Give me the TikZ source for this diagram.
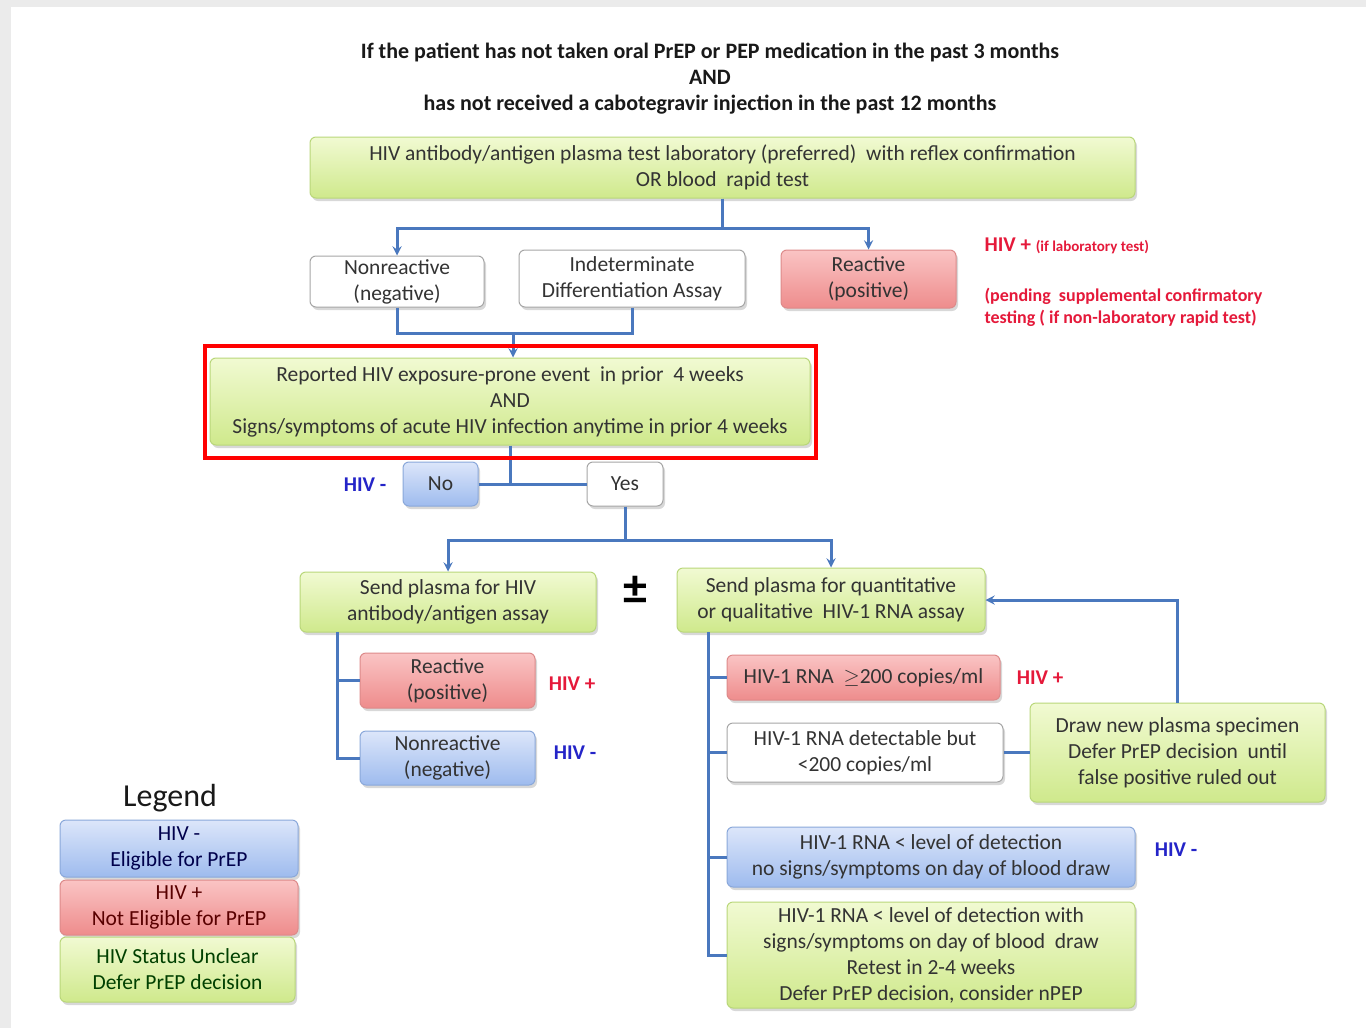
\documentclass[tikz,border=0pt]{standalone}
\usepackage{fontspec}
\setmainfont{Carlito}
\usetikzlibrary{shadows,fit}

\definecolor{linkblue}{HTML}{4A78BE}
\definecolor{grntop}{HTML}{F1FAD2}
\definecolor{grnbot}{HTML}{CFE98C}
\definecolor{grnedge}{HTML}{B9D77A}
\definecolor{redtop}{HTML}{FAC4C4}
\definecolor{redbot}{HTML}{EE8C8C}
\definecolor{rededge}{HTML}{DD8A8A}
\definecolor{blutop}{HTML}{DCE6FA}
\definecolor{blubot}{HTML}{9EBBEE}
\definecolor{bluedge}{HTML}{8AA8DA}
\definecolor{poscol}{HTML}{E5193A}
\definecolor{negcol}{HTML}{2424C8}

\begin{document}
\begin{tikzpicture}[
  x=1pt, y=-1pt, >=stealth,
  every node/.style={font=\fontsize{21.5}{26}\selectfont, text=black!80, align=center},
  box/.style={rectangle, rounded corners=6pt, draw, line width=1pt, inner sep=0pt,
    drop shadow={opacity=0.3, shadow xshift=2pt, shadow yshift=-3pt}},
  grnbox/.style={box, draw=grnedge, top color=grntop, bottom color=grnbot},
  redbox/.style={box, draw=rededge, top color=redtop, bottom color=redbot},
  blubox/.style={box, draw=bluedge, top color=blutop, bottom color=blubot},
  whtbox/.style={box, draw=black!35, fill=white},
  hivpos/.style={text=poscol, font=\fontsize{21}{24}\selectfont\bfseries},
  hivneg/.style={text=negcol, font=\fontsize{21}{24}\selectfont\bfseries},
  link/.style={draw=linkblue, line width=3pt}
]
  % frame
  \fill[black!8] (0,0) rectangle (1366,1028);
  \fill[white] (11,7) rectangle (1366,1028);

  % positions
  \node[font=\fontsize{22}{26}\selectfont\bfseries, text=black!90] (title) at (710,79)
    {If the patient has not taken oral PrEP or PEP medication in the past 3 months\\AND\\has not received a cabotegravir injection in the past 12 months};
  \node[grnbox, minimum width=825, minimum height=61] (top) at (722.5,167.5)
    {HIV antibody/antigen plasma test laboratory (preferred) \ with reflex confirmation\\OR blood \ rapid test};
  \node[whtbox, minimum width=174, minimum height=51] (nonr) at (397,281.5) {Nonreactive\\(negative)};
  \node[whtbox, minimum width=226, minimum height=57] (indet) at (632,278.5) {Indeterminate\\Differentiation Assay};
  \node[redbox, minimum width=175, minimum height=58] (reac) at (868.5,279) {Reactive\\(positive)};
  \node[hivpos, anchor=west] (labpos) at (981,246)
    {HIV + {\fontsize{15}{18}\selectfont (if laboratory test)}};
  \node[text=poscol, font=\fontsize{18}{22}\selectfont\bfseries, align=left, anchor=west] (pending) at (981,307)
    {(pending \ supplemental confirmatory\\testing ( if non-laboratory rapid test)};

  \node[grnbox, minimum width=600, minimum height=87] (mid) at (510,401.5)
    {Reported HIV exposure-prone event \ in prior \ 4 weeks\\AND\\Signs/symptoms of acute HIV infection anytime in prior 4 weeks};
  \node[blubox, minimum width=75, minimum height=44] (no) at (440.5,484) {No};
  \node[whtbox, minimum width=76, minimum height=44] (yes) at (625,484) {Yes};
  \node[hivneg] (hivnegA) at (365,485) {HIV -};

  \node[grnbox, minimum width=296, minimum height=60] (sendA) at (448,602)
    {Send plasma for HIV\\antibody/antigen assay};
  \node[font=\fontsize{48}{48}\selectfont\bfseries, text=black] (pm) at (635,590) {±};
  \node[grnbox, minimum width=308, minimum height=64] (sendB) at (831,600)
    {Send plasma for quantitative\\or qualitative \ HIV-1 RNA assay};

  \node[redbox, minimum width=175, minimum height=55] (reacB) at (447.5,680.5) {Reactive\\(positive)};
  \node[hivpos] (hivposB) at (572,684) {HIV +};
  \node[blubox, minimum width=175, minimum height=54] (nonrB) at (447.5,758) {Nonreactive\\(negative)};
  \node[hivneg] (hivnegB) at (575,753) {HIV -};

  \node[redbox, minimum width=273, minimum height=45] (rnahigh) at (863.5,677.5)
    {HIV-1 RNA \ $\geq$200 copies/ml};
  \node[hivpos] (hivposC) at (1040,678) {HIV +};
  \node[whtbox, minimum width=276, minimum height=59] (rnadet) at (865,752.5)
    {HIV-1 RNA detectable but\\<200 copies/ml};
  \node[grnbox, minimum width=295, minimum height=99] (redraw) at (1177.5,752.5)
    {Draw new plasma specimen\\Defer PrEP decision \ until\\false positive ruled out};
  \node[blubox, minimum width=408, minimum height=60] (rnalow) at (931,857)
    {HIV-1 RNA < level of detection\\no signs/symptoms on day of blood draw};
  \node[hivneg] (hivnegC) at (1176,850) {HIV -};
  \node[grnbox, minimum width=408, minimum height=106] (rnasym) at (931,955)
    {HIV-1 RNA < level of detection with\\signs/symptoms on day of blood \ draw\\Retest in 2-4 weeks\\Defer PrEP decision, consider nPEP};

  \node[font=\fontsize{32}{34}\selectfont, text=black!90] (legend) at (170,798) {Legend};
  \node[blubox, minimum width=238, minimum height=57, text=blue!30!black] (legneg) at (179,848.5)
    {HIV -\\Eligible for PrEP};
  \node[redbox, minimum width=238, minimum height=55, text=red!35!black] (legpos) at (179,907.5)
    {HIV +\\Not Eligible for PrEP};
  \node[grnbox, minimum width=235, minimum height=65, text=green!25!black] (legunc) at (177.5,969.5)
    {HIV Status Unclear\\Defer PrEP decision};

  % edges
  \draw[link,->] (top.south) -- ++(0,30) -| (nonr.north);
  \draw[link,->] (top.south) -- ++(0,30) -| (reac.north);
  \coordinate (join1) at (513,333);
  \draw[link] (nonr.south) |- (join1);
  \draw[link] (indet.south) |- (join1);
  \draw[link,->] (join1) -- (join1 |- mid.north);

  \draw[link] (mid.south) -- (mid.south |- no.east);
  \draw[link] (no.east) -- (yes.west);
  \draw[link,->] (yes.south) -- ++(0,34) -| (sendA.north);
  \draw[link,->] (yes.south) -- ++(0,34) -| (sendB.north);

  \coordinate (lbranch) at (337,632);
  \draw[link] (lbranch) |- (reacB.west);
  \draw[link] (lbranch) |- (nonrB.west);

  \coordinate (rbranch) at (708,632);
  \draw[link] (rbranch) |- (rnahigh.west);
  \draw[link] (rbranch) |- (rnadet.west);
  \draw[link] (rbranch) |- (rnalow.west);
  \draw[link] (rbranch) |- (rnasym.west);
  \draw[link] (rnadet.east) -- (redraw.west);
  \draw[link,->] (redraw.north) |- (sendB.east);

  % highlight
  \node[draw=red, line width=4pt, fit=(mid), inner xsep=5pt, inner ysep=12pt] (hilite) {};
\end{tikzpicture}
\end{document}
